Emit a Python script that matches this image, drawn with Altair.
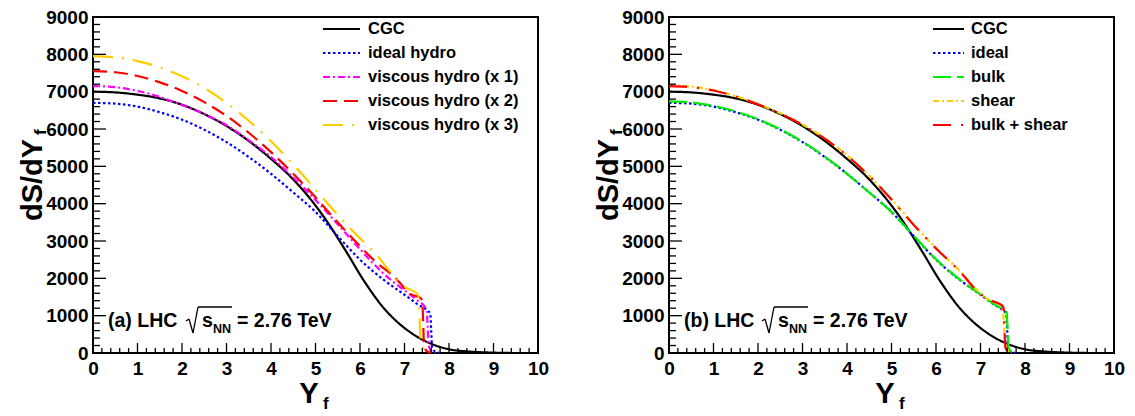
import altair as alt
import pandas as pd

# ---------------- data ----------------
NAMES_A = ["CGC", "ideal hydro", "viscous hydro (x 1)", "viscous hydro (x 2)", "viscous hydro (x 3)"]
NAMES_B = ["CGC", "ideal", "bulk", "shear", "bulk + shear"]

CGC_X = [0, 0.5, 1, 1.5, 2, 2.5, 3, 3.5, 4, 4.5, 5, 5.3, 5.5, 5.75, 6, 6.25, 6.5, 6.75, 7, 7.25, 7.5, 7.75, 8, 8.5, 9, 9.4]
CGC_Y = [7000, 6980, 6920, 6820, 6650, 6400, 6080, 5680, 5200, 4650, 3950, 3450, 3080, 2600, 2100, 1650, 1250, 930, 670, 460, 300, 180, 100, 35, 10, 0]

IDEAL_X = [0, 0.5, 1, 1.5, 2, 2.5, 3, 3.5, 4, 4.5, 5, 5.5, 6, 6.5, 7, 7.3, 7.52, 7.58, 7.6, 7.62, 7.7, 7.8]
IDEAL_Y = [6700, 6680, 6600, 6450, 6250, 5980, 5650, 5250, 4800, 4300, 3780, 3130, 2500, 1990, 1560, 1300, 1130, 1050, 600, 150, 30, 0]

VIS1_X = [0, 0.5, 1, 1.5, 2, 2.5, 3, 3.5, 4, 4.5, 5, 5.5, 6, 6.5, 6.74, 7, 7.3, 7.45, 7.5, 7.52, 7.54, 7.6, 7.7]
VIS1_Y = [7150, 7120, 7020, 6860, 6640, 6400, 6100, 5700, 5250, 4700, 4100, 3450, 2780, 2160, 1910, 1680, 1400, 1250, 1150, 700, 250, 50, 0]

VIS2_X = [0, 0.5, 1, 1.5, 2, 2.5, 3, 3.5, 4, 4.5, 5, 5.5, 6, 6.36, 6.77, 7.15, 7.35, 7.4, 7.42, 7.44, 7.5, 7.6]
VIS2_Y = [7550, 7520, 7420, 7250, 7020, 6720, 6350, 5900, 5380, 4800, 4170, 3500, 2860, 2435, 2040, 1570, 1480, 1400, 800, 200, 50, 0]

VIS3_X = [0, 0.5, 1, 1.5, 2, 2.5, 3, 3.5, 4, 4.5, 5, 5.5, 6, 6.32, 6.74, 7, 7.3, 7.33, 7.35, 7.38, 7.45, 7.55]
VIS3_Y = [7950, 7920, 7820, 7650, 7410, 7100, 6700, 6220, 5670, 5050, 4380, 3700, 3070, 2700, 2090, 1780, 1570, 1300, 600, 250, 100, 0]

BULK_X = [0, 0.5, 1, 1.5, 2, 2.5, 3, 3.5, 4, 4.5, 5, 5.5, 6, 6.5, 7, 7.3, 7.46, 7.58, 7.61, 7.63, 7.7, 7.8]
BULK_Y = [6740, 6710, 6620, 6470, 6260, 5990, 5660, 5260, 4800, 4300, 3780, 3140, 2510, 2000, 1570, 1310, 1210, 1150, 650, 150, 30, 0]

SHEAR_X = [0, 0.5, 1, 1.5, 2, 2.5, 3, 3.5, 4, 4.5, 5, 5.5, 6, 6.5, 7, 7.24, 7.38, 7.5, 7.53, 7.55, 7.6, 7.7]
SHEAR_Y = [7170, 7140, 7040, 6880, 6670, 6420, 6120, 5750, 5300, 4750, 4120, 3440, 2810, 2240, 1600, 1390, 1340, 1220, 700, 250, 80, 0]

BS_X = [0, 0.5, 1, 1.5, 2, 2.5, 3, 3.5, 4, 4.5, 5, 5.5, 6, 6.5, 7, 7.24, 7.38, 7.48, 7.52, 7.54, 7.56, 7.62, 7.7]
BS_Y = [7150, 7120, 7030, 6870, 6660, 6410, 6110, 5740, 5290, 4740, 4110, 3430, 2800, 2230, 1580, 1400, 1340, 1280, 1200, 600, 150, 30, 0]

COLORS_A = ["#000000", "#0000ff", "#ff00ff", "#ff0000", "#ffcc00"]
COLORS_B = ["#000000", "#0000ff", "#00ee00", "#ffcc00", "#ff0000"]
DASH_A = [[1, 0], [2.5, 2.5], [7, 3, 2, 3], [14, 7], [20, 9, 2, 9]]
DASH_B = [[1, 0], [2.5, 2.5], [18, 6], [6, 3, 2, 3], [18, 10, 2, 10]]

X_MAJOR = list(range(0, 11))
X_MINOR = [round(i * 0.2, 1) for i in range(0, 51) if i % 5 != 0]
Y_MAJOR = list(range(0, 9001, 1000))
Y_MINOR = [v for v in range(0, 9001, 200) if v % 1000 != 0]

ANNOT_A = "(a) LHC"
ANNOT_B = "(b) LHC"
ANNOT_S = "s"
ANNOT_NN = "NN"
ANNOT_TAIL = "= 2.76 TeV"
XTITLE = "Y"
YTITLE = "dS/dY"
SUBF = "f"

FONT = "Liberation Sans"
W, H = 445, 336


def long_df(names, xs, ys):
    rows = []
    for n, xx, yy in zip(names, xs, ys):
        for a, b in zip(xx, yy):
            rows.append({"series": n, "x": a, "y": b})
    return pd.DataFrame(rows)


def panel(names, xs, ys, colors, dashes, label, leg_sym, leg_text):
    df = long_df(names, xs, ys)
    xsc = alt.Scale(domain=[0, 10], nice=False, zero=False)
    ysc = alt.Scale(domain=[0, 9000], nice=False, zero=False)
    csc = alt.Scale(domain=names, range=colors)
    dsc = alt.Scale(domain=names, range=dashes)
    xaxis = alt.Axis(values=X_MAJOR, ticks=False, domain=False, grid=False,
                     labelFont=FONT, labelFontWeight="bold", labelFontSize=19,
                     labelColor="black", labelPadding=6, labelFlush=False, format="d",
                     title=None)
    yaxis = alt.Axis(values=Y_MAJOR, ticks=False, domain=False, grid=False,
                     labelFont=FONT, labelFontWeight="bold", labelFontSize=19,
                     labelColor="black", labelPadding=5, labelFlush=False, format="d",
                     title=None)

    lines = alt.Chart(df).mark_line(strokeWidth=2.2, interpolate="monotone", strokeCap="butt").encode(
        x=alt.X("x:Q", scale=xsc, axis=xaxis),
        y=alt.Y("y:Q", scale=ysc, axis=yaxis),
        color=alt.Color("series:N", scale=csc, legend=None),
        strokeDash=alt.StrokeDash("series:N", scale=dsc, legend=None),
        detail="series:N",
    )

    ymaj = alt.Chart(pd.DataFrame({"v": Y_MAJOR})).mark_rule(color="black", strokeWidth=1.3).encode(
        y=alt.Y("v:Q", scale=ysc, axis=None), x=alt.value(0), x2=alt.value(13))
    ymin = alt.Chart(pd.DataFrame({"v": Y_MINOR})).mark_rule(color="black", strokeWidth=1.3).encode(
        y=alt.Y("v:Q", scale=ysc, axis=None), x=alt.value(0), x2=alt.value(7))
    xmaj = alt.Chart(pd.DataFrame({"v": X_MAJOR})).mark_rule(color="black", strokeWidth=1.3).encode(
        x=alt.X("v:Q", scale=xsc, axis=xaxis), y=alt.value(H), y2=alt.value(H - 10))
    xmin = alt.Chart(pd.DataFrame({"v": X_MINOR})).mark_rule(color="black", strokeWidth=1.3).encode(
        x=alt.X("v:Q", scale=xsc, axis=xaxis), y=alt.value(H), y2=alt.value(H - 5))

    leg_df = pd.DataFrame({"series": names, "rank": list(range(len(names)))})
    lsc = alt.Scale(domain=[0, 4], range=[12, 108])
    leg_lines = alt.Chart(leg_df).mark_rule(strokeWidth=2.2, strokeCap="butt").encode(
        x=alt.value(leg_sym[0]), x2=alt.value(leg_sym[1]),
        y=alt.Y("rank:Q", scale=lsc, axis=None),
        color=alt.Color("series:N", scale=csc, legend=None),
        strokeDash=alt.StrokeDash("series:N", scale=dsc, legend=None),
    )
    leg_txt = alt.Chart(leg_df).mark_text(align="left", baseline="middle", font=FONT, fontWeight="bold",
                                          fontSize=16.5, color="black").encode(
        x=alt.value(leg_text), y=alt.Y("rank:Q", scale=lsc, axis=None), text="series:N")

    def txt(t, x, y, size, align="left", angle=0, baseline="alphabetic"):
        return alt.Chart(pd.DataFrame({"t": [t]})).mark_text(
            align=align, baseline=baseline, font=FONT, fontWeight="bold", fontSize=size,
            color="black", angle=angle).encode(x=alt.value(x), y=alt.value(y), text="t:N")

    ann = [
        txt(label, 15, 310, 19.5),
        txt(ANNOT_S, 109, 310, 19.5),
        txt(ANNOT_NN, 120, 316, 12.5),
        txt(ANNOT_TAIL, 144, 310, 19.5),
        txt(XTITLE, 216, 386, 29, align="center"),
        txt(SUBF, 230, 392, 17),
        txt(YTITLE, -60, 163, 29, align="center", angle=270, baseline="middle"),
        txt(SUBF, -52, 118, 17, align="left", angle=270, baseline="middle"),
    ]
    # radical sign drawn with rules
    def seg(x1, y1, x2, y2):
        return alt.Chart(pd.DataFrame({"a": [0]})).mark_rule(color="black", strokeWidth=1.3).encode(
            x=alt.value(x1), x2=alt.value(x2), y=alt.value(y1), y2=alt.value(y2))

    rad = [seg(93, 304, 96, 302), seg(96, 302, 100, 316), seg(100, 316, 105, 290), seg(105, 290, 139, 290)]

    layer = alt.layer(lines, ymaj, ymin, xmaj, xmin, leg_lines, leg_txt, *ann, *rad).resolve_scale(
        y="independent").properties(width=W, height=H)
    return layer


pa = panel(NAMES_A, [CGC_X, IDEAL_X, VIS1_X, VIS2_X, VIS3_X], [CGC_Y, IDEAL_Y, VIS1_Y, VIS2_Y, VIS3_Y],
           COLORS_A, DASH_A, ANNOT_A, (230, 267), 275)
pb = panel(NAMES_B, [CGC_X, IDEAL_X, BULK_X, SHEAR_X, BS_X], [CGC_Y, IDEAL_Y, BULK_Y, SHEAR_Y, BS_Y],
           COLORS_B, DASH_B, ANNOT_B, (264, 295), 302)

chart = alt.hconcat(pa, pb, spacing=131, bounds="flush").resolve_scale(
    color="independent", strokeDash="independent", x="independent", y="independent"
).properties(
    padding={"left": 10, "top": -1, "right": 0, "bottom": 0}
).configure_view(stroke="black", strokeWidth=2)

chart.save("out.html", embed_options={"renderer": "svg", "actions": False})
